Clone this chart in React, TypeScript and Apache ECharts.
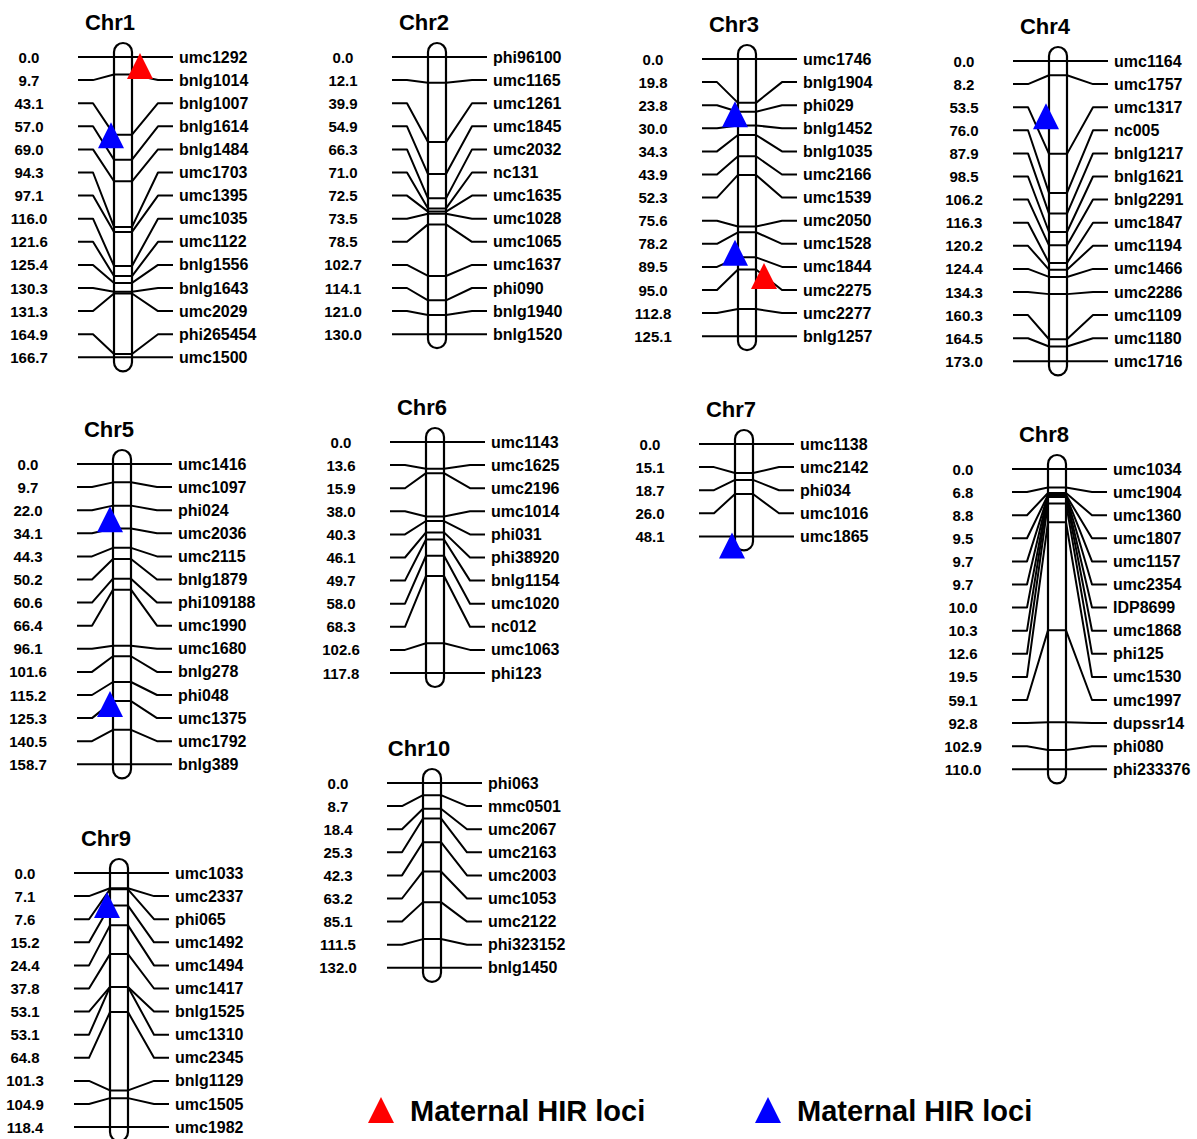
import React, { useEffect, useRef } from 'react';
import * as echarts from 'echarts';

// ---------------- data ----------------
const chromosomes = ['Chr1', 'Chr2', 'Chr3', 'Chr4', 'Chr5', 'Chr6', 'Chr7', 'Chr8', 'Chr9', 'Chr10'];

const chr1Pos = [0.0, 9.7, 43.1, 57.0, 69.0, 94.3, 97.1, 116.0, 121.6, 125.4, 130.3, 131.3, 164.9, 166.7];
const chr1Markers = ['umc1292', 'bnlg1014', 'bnlg1007', 'bnlg1614', 'bnlg1484', 'umc1703', 'umc1395', 'umc1035', 'umc1122', 'bnlg1556', 'bnlg1643', 'umc2029', 'phi265454', 'umc1500'];

const chr2Pos = [0.0, 12.1, 39.9, 54.9, 66.3, 71.0, 72.5, 73.5, 78.5, 102.7, 114.1, 121.0, 130.0];
const chr2Markers = ['phi96100', 'umc1165', 'umc1261', 'umc1845', 'umc2032', 'nc131', 'umc1635', 'umc1028', 'umc1065', 'umc1637', 'phi090', 'bnlg1940', 'bnlg1520'];

const chr3Pos = [0.0, 19.8, 23.8, 30.0, 34.3, 43.9, 52.3, 75.6, 78.2, 89.5, 95.0, 112.8, 125.1];
const chr3Markers = ['umc1746', 'bnlg1904', 'phi029', 'bnlg1452', 'bnlg1035', 'umc2166', 'umc1539', 'umc2050', 'umc1528', 'umc1844', 'umc2275', 'umc2277', 'bnlg1257'];

const chr4Pos = [0.0, 8.2, 53.5, 76.0, 87.9, 98.5, 106.2, 116.3, 120.2, 124.4, 134.3, 160.3, 164.5, 173.0];
const chr4Markers = ['umc1164', 'umc1757', 'umc1317', 'nc005', 'bnlg1217', 'bnlg1621', 'bnlg2291', 'umc1847', 'umc1194', 'umc1466', 'umc2286', 'umc1109', 'umc1180', 'umc1716'];

const chr5Pos = [0.0, 9.7, 22.0, 34.1, 44.3, 50.2, 60.6, 66.4, 96.1, 101.6, 115.2, 125.3, 140.5, 158.7];
const chr5Markers = ['umc1416', 'umc1097', 'phi024', 'umc2036', 'umc2115', 'bnlg1879', 'phi109188', 'umc1990', 'umc1680', 'bnlg278', 'phi048', 'umc1375', 'umc1792', 'bnlg389'];

const chr6Pos = [0.0, 13.6, 15.9, 38.0, 40.3, 46.1, 49.7, 58.0, 68.3, 102.6, 117.8];
const chr6Markers = ['umc1143', 'umc1625', 'umc2196', 'umc1014', 'phi031', 'phi38920', 'bnlg1154', 'umc1020', 'nc012', 'umc1063', 'phi123'];

const chr7Pos = [0.0, 15.1, 18.7, 26.0, 48.1];
const chr7Markers = ['umc1138', 'umc2142', 'phi034', 'umc1016', 'umc1865'];

const chr8Pos = [0.0, 6.8, 8.8, 9.5, 9.7, 9.7, 10.0, 10.3, 12.6, 19.5, 59.1, 92.8, 102.9, 110.0];
const chr8Markers = ['umc1034', 'umc1904', 'umc1360', 'umc1807', 'umc1157', 'umc2354', 'IDP8699', 'umc1868', 'phi125', 'umc1530', 'umc1997', 'dupssr14', 'phi080', 'phi233376'];

const chr9Pos = [0.0, 7.1, 7.6, 15.2, 24.4, 37.8, 53.1, 53.1, 64.8, 101.3, 104.9, 118.4];
const chr9Markers = ['umc1033', 'umc2337', 'phi065', 'umc1492', 'umc1494', 'umc1417', 'bnlg1525', 'umc1310', 'umc2345', 'bnlg1129', 'umc1505', 'umc1982'];

const chr10Pos = [0.0, 8.7, 18.4, 25.3, 42.3, 63.2, 85.1, 111.5, 132.0];
const chr10Markers = ['phi063', 'mmc0501', 'umc2067', 'umc2163', 'umc2003', 'umc1053', 'umc2122', 'phi323152', 'bnlg1450'];

const positions = [chr1Pos, chr2Pos, chr3Pos, chr4Pos, chr5Pos, chr6Pos, chr7Pos, chr8Pos, chr9Pos, chr10Pos];
const markerNames = [chr1Markers, chr2Markers, chr3Markers, chr4Markers, chr5Markers, chr6Markers, chr7Markers, chr8Markers, chr9Markers, chr10Markers];

// HIR loci (triangles): chromosome, nearest marker, legend group
const lociChr = ['Chr1', 'Chr1', 'Chr3', 'Chr3', 'Chr3', 'Chr4', 'Chr5', 'Chr5', 'Chr7', 'Chr9'];
const lociMarker = ['umc1292', 'bnlg1614', 'phi029', 'umc1528', 'umc1844', 'umc1317', 'phi024', 'phi048', 'umc1865', 'umc2337'];
const lociGroup = [0, 1, 1, 1, 0, 1, 1, 1, 1, 1];

const legendLabels = ['Maternal HIR loci', 'Maternal HIR loci'];
const legendColors = ['#ff0000', '#0000ff'];

// ---------------- layout ----------------
const CX = [123, 437, 747, 1058, 122, 435, 744, 1057, 119, 432];
const ROW0 = [57, 57, 59, 61, 464, 442, 444, 469, 873, 783];
const ROW_STEP = 23.1;
const X_MIN = -45;
const X_MAX = 50;
const HALF_W = 9;
const FONT = '"Liberation Sans", Arial, Helvetica, sans-serif';

function buildOption() {
  const grid: any[] = [];
  const xAxis: any[] = [];
  const yAxis: any[] = [];
  const series: any[] = [];

  chromosomes.forEach((name, k) => {
    const pos = positions[k];
    const names = markerNames[k];
    const n = pos.length;
    const max = pos[n - 1];
    grid.push({ left: CX[k] + X_MIN, top: ROW0[k], width: X_MAX - X_MIN, height: (n - 1) * ROW_STEP });
    xAxis.push({ type: 'value', gridIndex: k, min: X_MIN, max: X_MAX, show: false });
    yAxis.push({ type: 'value', gridIndex: k, min: 0, max, inverse: true, show: false });

    // chromosome body + title
    series.push({
      type: 'custom',
      xAxisIndex: k,
      yAxisIndex: k,
      z: 1,
      silent: true,
      data: [[0, max]],
      renderItem: (params: any, api: any) => {
        const top = api.coord([0, 0]);
        const bot = api.coord([0, api.value(1)]);
        const cx = top[0];
        return {
          type: 'group',
          children: [
            {
              type: 'rect',
              shape: { x: cx - HALF_W, y: top[1] - 14, width: HALF_W * 2, height: bot[1] - top[1] + 28, r: HALF_W },
              style: { fill: '#ffffff', stroke: '#000000', lineWidth: 2.2 },
            },
            {
              type: 'text',
              x: cx - 13,
              y: top[1] - 35,
              style: {
                text: name,
                font: `bold 22px ${FONT}`,
                fill: '#000000',
                align: 'center',
                verticalAlign: 'middle',
                textAlign: 'center',
                textVerticalAlign: 'middle',
              },
            },
          ],
        };
      },
    });

    // markers: connector lines + labels
    series.push({
      type: 'custom',
      xAxisIndex: k,
      yAxisIndex: k,
      z: 2,
      silent: true,
      data: pos.map((p, i) => [0, p, i]),
      renderItem: (params: any, api: any) => {
        const i = params.dataIndex;
        const cm = api.value(1);
        const top = api.coord([0, 0])[1];
        const bot = api.coord([0, max])[1];
        const rowY = top + (i * (bot - top)) / (n - 1);
        const cy = api.coord([0, cm])[1];
        const X = (v: number) => api.coord([v, 0])[0];
        return {
          type: 'group',
          children: [
            {
              type: 'polyline',
              shape: {
                points: [
                  [X(X_MIN), rowY],
                  [X(X_MIN + 15), rowY],
                  [X(-HALF_W), cy],
                  [X(HALF_W), cy],
                  [X(X_MAX - 15), rowY],
                  [X(X_MAX), rowY],
                ],
              },
              style: { stroke: '#000000', lineWidth: 2, fill: null, lineJoin: 'round' },
            },
            {
              type: 'text',
              x: X(0) - 94,
              y: rowY,
              style: {
                text: cm.toFixed(1),
                font: `bold 15px ${FONT}`,
                fill: '#000000',
                align: 'center',
                verticalAlign: 'middle',
                textAlign: 'center',
                textVerticalAlign: 'middle',
              },
            },
            {
              type: 'text',
              x: X(X_MAX) + 6,
              y: rowY,
              style: {
                text: names[i],
                font: `bold 16px ${FONT}`,
                fill: '#000000',
                align: 'left',
                verticalAlign: 'middle',
                textAlign: 'left',
                textVerticalAlign: 'middle',
              },
            },
          ],
        };
      },
    });

    // loci triangles
    const lociIdx = lociChr.map((c, j) => (c === name ? j : -1)).filter((j) => j >= 0);
    if (lociIdx.length) {
      series.push({
        type: 'custom',
        xAxisIndex: k,
        yAxisIndex: k,
        z: 3,
        silent: true,
        data: lociIdx.map((j) => [lociGroup[j], names.indexOf(lociMarker[j])]),
        renderItem: (params: any, api: any) => {
          const g = api.value(0);
          const idx = api.value(1);
          const top = api.coord([0, 0])[1];
          const bot = api.coord([0, max])[1];
          const rowY = top + (idx * (bot - top)) / (n - 1);
          const cx = api.coord([g === 0 ? 17 : -12, 0])[0];
          const tipY = rowY - 4;
          return {
            type: 'polygon',
            shape: { points: [[cx, tipY], [cx + 13, tipY + 26], [cx - 13, tipY + 26]] },
            style: { fill: legendColors[g], stroke: null },
          };
        },
      });
    }
  });

  const legendX = [368, 755];
  const graphic: any[] = [];
  legendLabels.forEach((label, g) => {
    const x = legendX[g];
    graphic.push({
      type: 'polygon',
      shape: { points: [[x + 13, 1097], [x + 26, 1123], [x, 1123]] },
      style: { fill: legendColors[g] },
    });
    graphic.push({
      type: 'text',
      x: x + 42,
      y: 1111,
      style: {
        text: label,
        font: `bold 29px ${FONT}`,
        fill: '#000000',
        align: 'left',
        verticalAlign: 'middle',
        textAlign: 'left',
        textVerticalAlign: 'middle',
      },
    });
  });

  return {
    animation: false,
    backgroundColor: '#ffffff',
    grid,
    xAxis,
    yAxis,
    series,
    graphic,
  };
}

export default function App() {
  const ref = useRef<HTMLDivElement>(null);
  useEffect(() => {
    if (!ref.current) return;
    const chart = echarts.init(ref.current, undefined, { renderer: 'svg' });
    chart.setOption(buildOption() as any);
    return () => chart.dispose();
  }, []);
  return (
    <div
      ref={ref}
      style={{ position: 'fixed', left: 0, top: 0, width: 1197, height: 1139, background: '#fff' }}
    />
  );
}
